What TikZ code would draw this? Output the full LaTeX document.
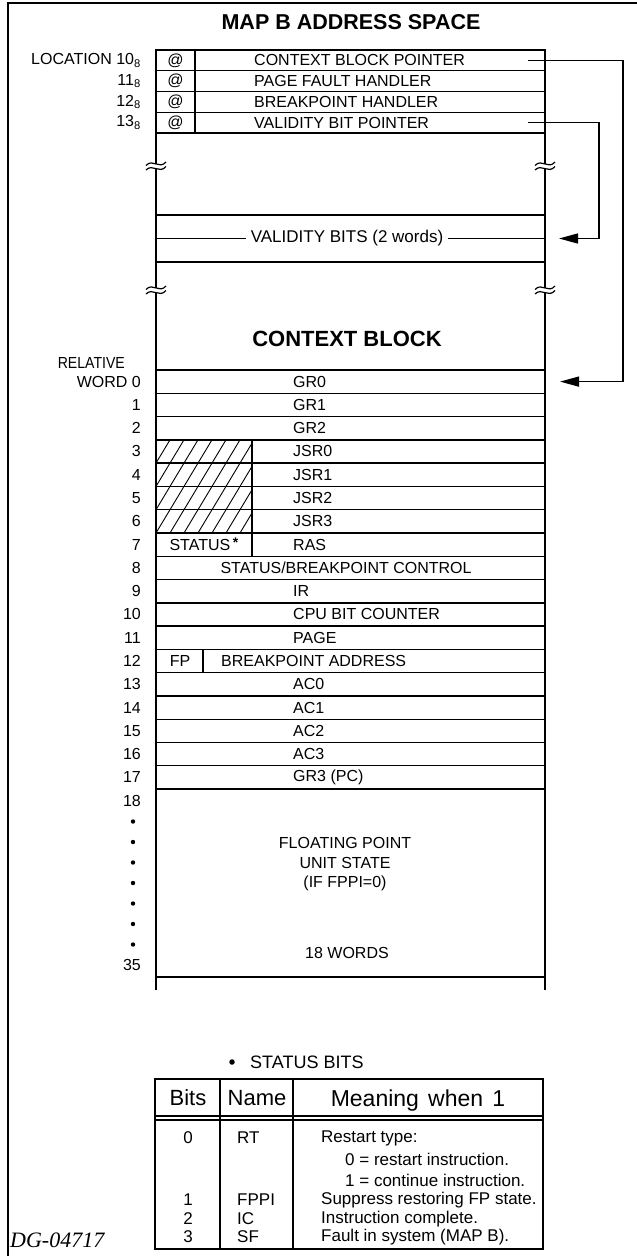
\documentclass[tikz,border=0pt]{standalone}
\usepackage{fontspec}
\setmainfont{Liberation Sans}
\newfontfamily\dgserif{Liberation Serif}
\usetikzlibrary{arrows.meta}
\newcommand\tearmark[2]{%
  \fill[white] (#1-3.5,#2-2.4) rectangle (#1+3.5,#2+2.4);
  \draw[line width=1.2pt] (#1-10,#2-0.5) .. controls (#1-3,#2-8) and (#1+3,#2+4) .. (#1+10,#2-4);
  \draw[line width=1.2pt] (#1-10,#2+4) .. controls (#1-3,#2-3) and (#1+3,#2+8.5) .. (#1+10,#2+0.5);
}
\begin{document}
\begin{tikzpicture}[x=1pt,y=-1pt,
  txt/.style={font=\fontsize{16}{19}\selectfont, inner sep=0pt},
  lft/.style={txt, anchor=west},
  rgt/.style={txt, anchor=east},
  tb/.style={font=\fontsize{17}{20}\selectfont, inner sep=0pt},
  tbl/.style={tb, anchor=west},
  hdr/.style={font=\fontsize{22}{25}\selectfont, inner sep=0pt},
  side/.style={line width=2.4pt},
  rule/.style={line width=1.4pt},
  thin/.style={line width=1.3pt},
  ptr/.style={line width=1.4pt, -{Triangle[length=19pt,width=10pt]}},
  hatch/.style={line width=0.9pt},
]
\useasboundingbox (0,0) rectangle (637,1256);
% outer frame
\draw[line width=1.6pt] (8,1256) -- (8,3) -- (637,3);
% title
\node[font=\bfseries\fontsize{21.5}{24}\selectfont, inner sep=0pt] (title) at (351,22) {MAP B ADDRESS SPACE};

% memory box sides
\draw[side] (156,990) -- (156,50) -- (545,50) -- (545,990);

% top four words
\foreach \y in {70.75,91.5,112.25,133} \draw[rule] (156,\y) -- (545,\y);
\draw[rule] (195,50) -- (195,133);
\foreach \k/\t in {0/CONTEXT BLOCK POINTER,1/PAGE FAULT HANDLER,2/BREAKPOINT HANDLER,3/VALIDITY BIT POINTER}{
  \node[txt] (at\k) at (175.5,{60.4+\k*20.75}) {@};
  \node[lft] (w\k) at (254,{60.4+\k*20.75}) {\t};
}
\node[rgt] (loc10) at (141,60.4) {LOCATION 10\textsubscript{8}};
\node[rgt] (loc11) at (141,81.15) {11\textsubscript{8}};
\node[rgt] (loc12) at (141,101.9) {12\textsubscript{8}};
\node[rgt] (loc13) at (141,122.65) {13\textsubscript{8}};

% validity bits
\draw[rule] (156,215) -- (545,215);
\draw[rule] (156,262) -- (545,262);
\node[font=\fontsize{17}{20}\selectfont, inner sep=0pt] (vb) at (347,238.5) {VALIDITY BITS (2 words)};
\draw[rule] (156,238.5) -- ([xshift=-5pt]vb.west);
\draw[rule] ([xshift=5pt]vb.east) -- (545,238.5);

% break marks
\tearmark{156}{166}
\tearmark{545}{166}
\tearmark{156}{290}
\tearmark{545}{290}

% context block
\node[font=\bfseries\fontsize{22}{25}\selectfont, inner sep=0pt] (cb) at (347,339) {CONTEXT BLOCK};
\node[rgt] (rel) at (125,363) {\scalebox{0.88}[1]{RELATIVE}};
\node[rgt] (n0) at (141,381.6) {WORD 0};
\foreach \k in {0,...,18} \draw[rule] (156,{370+\k*23.28}) -- (545,{370+\k*23.28});
% hatching
\begin{scope}
  \clip (156,439.84) rectangle (252,533);
  \foreach \i in {-5,...,8} \draw[hatch] ({156+\i*14},533) -- ++(56,-93.2);
\end{scope}
\foreach \k in {3,...,7} \draw[rule] (156,{370+\k*23.28}) -- (252,{370+\k*23.28});
\draw[rule] (252,439.84) -- (252,556.4);
\draw[rule] (203,649.36) -- (203,672.64);
\foreach \k/\t in {0/GR0,1/GR1,2/GR2,3/JSR0,4/JSR1,5/JSR2,6/JSR3,7/RAS,9/IR,10/CPU BIT COUNTER,11/PAGE,13/AC0,14/AC1,15/AC2,16/AC3,17/GR3 (PC)}
  \node[lft] (r\k) at (293,{370+(\k+0.5)*23.28}) {\t};
\node[txt] (r8) at (346,{370+8.5*23.28}) {STATUS/BREAKPOINT CONTROL};
\node[lft] (r12) at (221,{370+12.5*23.28}) {BREAKPOINT ADDRESS};
\node[txt] (fp) at (180,{370+12.5*23.28}) {FP};
\node[txt] (st) at (204,{370+7.5*23.28}) {STATUS\,\raisebox{3pt}{\fontsize{14}{14}\selectfont\bfseries *}};
\foreach \k in {1,...,17} \node[rgt] (n\k) at (141,{370+(\k+0.5)*23.28}) {\k};

% floating point section
\node[rgt] (n18) at (141,801) {18};
\foreach \j in {1,...,7} \fill (133,{801+\j*20.5}) circle (2.2);
\node[rgt] (n35) at (141,965) {35};
\draw[rule] (156,977) -- (545,977);
\node[txt] (fp1) at (345,843) {FLOATING POINT};
\node[txt] (fp2) at (345,863) {UNIT STATE};
\node[txt] (fp3) at (345,883) {(IF FPPI=0)};
\node[txt] (fp4) at (347,953) {18 WORDS};

% pointers
\coordinate (cbpS) at (528,60.4);
\coordinate (gr0T) at (560,381.6);
\draw[ptr] (cbpS) -- (623,60.4) |- (gr0T);
\coordinate (vbpS) at (528,122.65);
\coordinate (vbT) at (559,238.5);
\draw[ptr] (vbpS) -- (599,122.65) |- (vbT);

% status bits table
\node[circle, fill, inner sep=0pt, minimum size=5.5pt] (sbdot) at (232,1062) {};
\node[font=\fontsize{18}{20}\selectfont, inner sep=0pt, anchor=west] (sb) at (250,1062) {STATUS BITS};
\draw[thin] (155,1079) rectangle (543,1249);
\draw[thin] (220,1079) -- (220,1249);
\draw[thin] (293,1079) -- (293,1249);
\draw[thin] (155,1116) -- (543,1116);
\draw[thin] (155,1120) -- (543,1120);
\node[hdr] (hb) at (188,1098) {Bits};
\node[hdr] (hn) at (257,1098) {Name};
\node[font=\fontsize{23}{26}\selectfont, inner sep=0pt, anchor=base] (hm) at (418,1106) {Meaning\hspace{0.4em}when\hspace{0.4em}1};
\node[tb] (b0) at (188,1138) {0};
\node[tb] (b1) at (188,1200) {1};
\node[tb] (b2) at (188,1219) {2};
\node[tb] (b3) at (188,1237) {3};
\node[tbl] (m0) at (237,1138) {RT};
\node[tbl] (m1) at (237,1200) {FPPI};
\node[tbl] (m2) at (237,1219) {IC};
\node[tbl] (m3) at (237,1237) {SF};
\node[tbl] (d0) at (321,1138) {Restart type:};
\node[tbl] (d0a) at (345,1159) {0 = restart instruction.};
\node[tbl] (d0b) at (345,1180) {1 = continue instruction.};
\node[tbl] (d1) at (321,1200) {Suppress restoring FP state.};
\node[tbl] (d2) at (321,1219) {Instruction complete.};
\node[tbl] (d3) at (321,1237) {Fault in system (MAP B).};

\node[font=\dgserif\itshape\fontsize{22}{24}\selectfont, anchor=west, inner sep=0pt] (dg) at (10,1240) {DG-04717};
\end{tikzpicture}
\end{document}
